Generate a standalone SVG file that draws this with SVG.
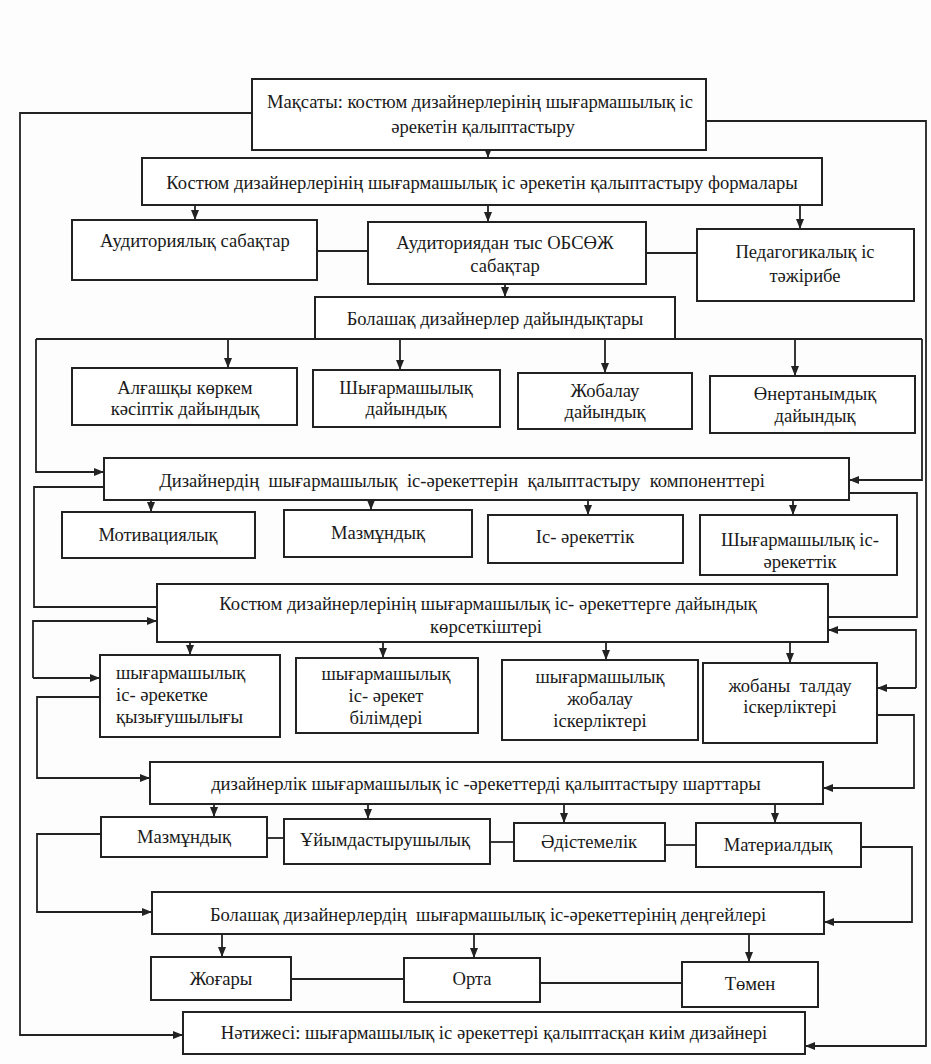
<svg xmlns="http://www.w3.org/2000/svg" width="931" height="1064" viewBox="0 0 931 1064">
<defs>
<style>
.b{fill:#fff;stroke:#222;stroke-width:2}
.t{font-family:"Liberation Serif","Times New Roman",serif;font-size:18.6px;fill:#1a1a1a;text-anchor:middle}
.l{text-anchor:start}
.c{fill:none;stroke:#222;stroke-width:1.8}
.a{fill:none;stroke:#222;stroke-width:1.8;marker-end:url(#ar)}
</style>
<marker id="ar" markerUnits="userSpaceOnUse" markerWidth="10" markerHeight="8" refX="10" refY="4" orient="auto">
<path d="M0,0 L10,4 L0,8 z" fill="#222"/>
</marker>
</defs>
<rect width="931" height="1064" fill="#fdfdfd"/>
<g id="connectors">
<path class="a" d="M252,113 H20 V1035 H183"/>
<path class="a" d="M706,121 H926 V1046 H805"/>
<path class="a" d="M488,150 V158"/>
<path class="a" d="M195,205 V220"/>
<path class="a" d="M488,205 V222"/>
<path class="a" d="M800,205 V229"/>
<path class="c" d="M317,251 H368"/>
<path class="c" d="M646,253 H697"/>
<path class="a" d="M505,284 V297"/>
<path class="c" d="M36,339 H922"/>
<path class="a" d="M228,339 V368"/>
<path class="a" d="M400,339 V370"/>
<path class="a" d="M605,339 V373"/>
<path class="a" d="M795,339 V376"/>
<path class="a" d="M36,339 V472 H104"/>
<path class="a" d="M922,339 V480 H849"/>
<path class="c" d="M104,487 H34 V607 H157"/>
<path class="c" d="M849,493 H917 V617 H828"/>
<path class="a" d="M151,500 V512"/>
<path class="a" d="M371,500 V510"/>
<path class="a" d="M588,500 V515"/>
<path class="a" d="M793,500 V515"/>
<path class="a" d="M33,678 V621 H157"/>
<path class="a" d="M33,678 H100"/>
<path class="a" d="M916,688 V630 H828"/>
<path class="a" d="M916,688 H877"/>
<path class="a" d="M190,642 V655"/>
<path class="a" d="M383,642 V658"/>
<path class="a" d="M606,642 V660"/>
<path class="a" d="M790,642 V663"/>
<path class="a" d="M100,697 H37 V778 H150"/>
<path class="a" d="M877,715 H914 V788 H823"/>
<path class="a" d="M214,804 V817"/>
<path class="a" d="M368,804 V819"/>
<path class="a" d="M564,804 V823"/>
<path class="a" d="M775,804 V823"/>
<path class="c" d="M267,838 H284"/>
<path class="c" d="M490,842 H514"/>
<path class="c" d="M665,845 H696"/>
<path class="a" d="M101,834 H37 V912 H152"/>
<path class="a" d="M861,847 H912 V922 H824"/>
<path class="a" d="M222,934 V957"/>
<path class="a" d="M474,934 V958"/>
<path class="a" d="M749,934 V962"/>
<path class="c" d="M291,979 H404"/>
<path class="c" d="M540,983 H682"/>
</g>
<g id="n1"><rect class="b" x="252" y="79" width="454" height="71"/>
<text class="t" x="480" y="108">Мақсаты: костюм дизайнерлерінің шығармашылық іс</text>
<text class="t" x="483" y="133">әрекетін қалыптастыру</text></g>
<g id="n2"><rect class="b" x="142" y="158" width="680" height="47"/>
<text class="t" x="482" y="189">Костюм дизайнерлерінің шығармашылық іс әрекетін қалыптастыру формалары</text></g>
<g id="n3a"><rect class="b" x="72" y="220" width="245" height="60"/>
<text class="t" x="195" y="247">Аудиториялық сабақтар</text></g>
<g id="n3b"><rect class="b" x="368" y="222" width="278" height="62"/>
<text class="t" x="505" y="249">Аудиториядан тыс ОБСӨЖ</text>
<text class="t" x="505" y="272">сабақтар</text></g>
<g id="n3c"><rect class="b" x="697" y="229" width="217" height="72"/>
<text class="t" x="805" y="258">Педагогикалық іс</text>
<text class="t" x="805" y="282">тәжірибе</text></g>
<g id="n4"><rect class="b" x="315" y="297" width="360" height="42"/>
<text class="t" x="495" y="325">Болашақ дизайнерлер дайындықтары</text></g>
<g id="n5a"><rect class="b" x="72" y="368" width="225" height="57"/>
<text class="t" x="185" y="394">Алғашқы көркем</text>
<text class="t" x="185" y="415">кәсіптік дайындық</text></g>
<g id="n5b"><rect class="b" x="313" y="370" width="187" height="57"/>
<text class="t" x="406" y="394">Шығармашылық</text>
<text class="t" x="406" y="415">дайындық</text></g>
<g id="n5c"><rect class="b" x="518" y="373" width="174" height="56"/>
<text class="t" x="605" y="397">Жобалау</text>
<text class="t" x="605" y="418">дайындық</text></g>
<g id="n5d"><rect class="b" x="710" y="376" width="205" height="57"/>
<text class="t" x="815" y="400">Өнертанымдық</text>
<text class="t" x="815" y="422">дайындық</text></g>
<g id="n6"><rect class="b" x="104" y="458" width="745" height="42"/>
<text class="t" x="462" y="487" xml:space="preserve">Дизайнердің  шығармашылық  іс-әрекеттерін  қалыптастыру  компоненттері</text></g>
<g id="n7a"><rect class="b" x="62" y="512" width="193" height="46"/>
<text class="t" x="158" y="541">Мотивациялық</text></g>
<g id="n7b"><rect class="b" x="284" y="510" width="188" height="47"/>
<text class="t" x="378" y="539">Мазмұндық</text></g>
<g id="n7c"><rect class="b" x="488" y="515" width="195" height="48"/>
<text class="t" x="585" y="543">Іс- әрекеттік</text></g>
<g id="n7d"><rect class="b" x="700" y="515" width="197" height="60"/>
<text class="t" x="800" y="546">Шығармашылық іс-</text>
<text class="t" x="800" y="568">әрекеттік</text></g>
<g id="n8"><rect class="b" x="157" y="584" width="671" height="58"/>
<text class="t" x="488" y="610">Костюм дизайнерлерінің шығармашылық іс- әрекеттерге дайындық</text>
<text class="t" x="486" y="633">көрсеткіштері</text></g>
<g id="n9a"><rect class="b" x="100" y="655" width="180" height="82"/>
<text class="t l" x="116" y="679">шығармашылық</text>
<text class="t l" x="116" y="701">іс- әрекетке</text>
<text class="t l" x="116" y="723">қызығушылығы</text></g>
<g id="n9b"><rect class="b" x="296" y="658" width="182" height="75"/>
<text class="t" x="386" y="680">шығармашылық</text>
<text class="t" x="386" y="702">іс- әрекет</text>
<text class="t" x="386" y="724">білімдері</text></g>
<g id="n9c"><rect class="b" x="502" y="660" width="196" height="80"/>
<text class="t" x="600" y="683">шығармашылық</text>
<text class="t" x="600" y="705">жобалау</text>
<text class="t" x="600" y="727">іскерліктері</text></g>
<g id="n9d"><rect class="b" x="703" y="663" width="174" height="80"/>
<text class="t" x="790" y="692" xml:space="preserve">жобаны  талдау</text>
<text class="t" x="790" y="713">іскерліктері</text></g>
<g id="n10"><rect class="b" x="150" y="762" width="673" height="42"/>
<text class="t" x="486" y="790">дизайнерлік шығармашылық іс -әрекеттерді қалыптастыру шарттары</text></g>
<g id="n11a"><rect class="b" x="101" y="817" width="166" height="40"/>
<text class="t" x="184" y="843">Мазмұндық</text></g>
<g id="n11b"><rect class="b" x="284" y="819" width="206" height="45"/>
<text class="t" x="385" y="846">Ұйымдастырушылық</text></g>
<g id="n11c"><rect class="b" x="514" y="823" width="151" height="38"/>
<text class="t" x="589" y="848">Әдістемелік</text></g>
<g id="n11d"><rect class="b" x="696" y="823" width="165" height="44"/>
<text class="t" x="778" y="851">Материалдық</text></g>
<g id="n12"><rect class="b" x="152" y="892" width="672" height="42"/>
<text class="t" x="488" y="921" xml:space="preserve">Болашақ дизайнерлердің  шығармашылық іс-әрекеттерінің деңгейлері</text></g>
<g id="n13a"><rect class="b" x="151" y="957" width="140" height="43"/>
<text class="t" x="221" y="985">Жоғары</text></g>
<g id="n13b"><rect class="b" x="404" y="958" width="136" height="44"/>
<text class="t" x="472" y="985">Орта</text></g>
<g id="n13c"><rect class="b" x="682" y="962" width="136" height="45"/>
<text class="t" x="750" y="990">Төмен</text></g>
<g id="n14"><rect class="b" x="183" y="1012" width="622" height="42"/>
<text class="t" x="494" y="1039">Нәтижесі: шығармашылық іс әрекеттері қалыптасқан киім дизайнері</text></g>
</svg>
